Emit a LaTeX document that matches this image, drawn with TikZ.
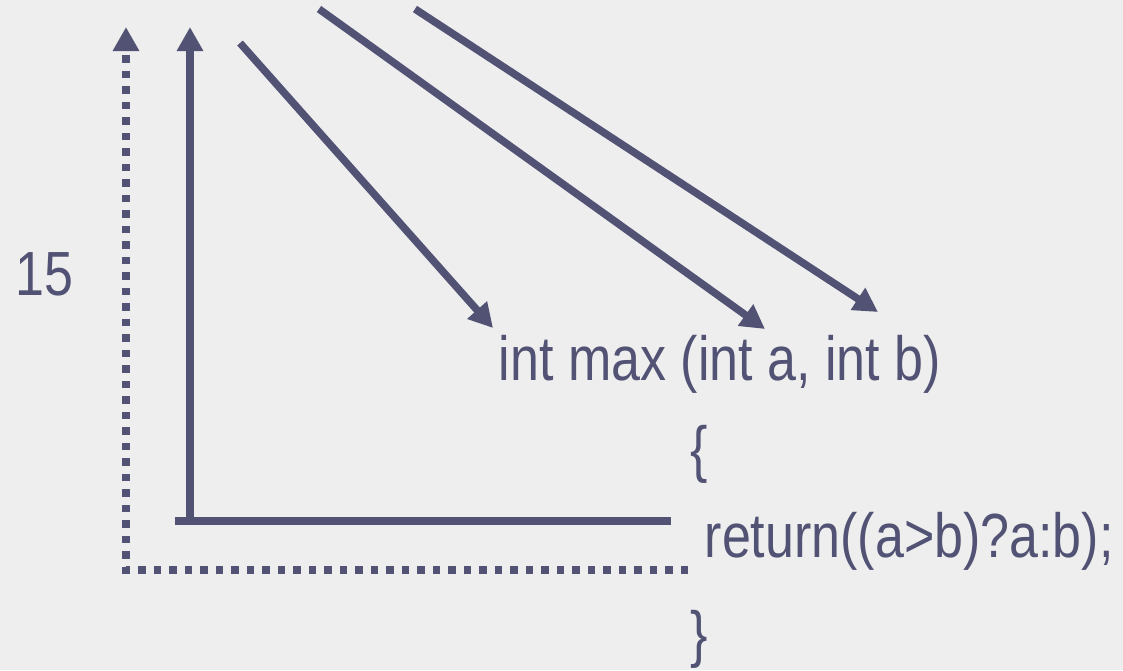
\documentclass[tikz,border=0pt]{standalone}
\usepackage{fontspec}
\setmainfont{Liberation Sans}
\usetikzlibrary{arrows.meta}
\definecolor{ink}{RGB}{82,82,117}
\definecolor{paper}{RGB}{238,238,238}
\newcommand{\tall}[1]{\scalebox{1}[1.2]{#1}}
\tikzset{
  arrowline/.style={draw=ink, line width=7.5pt, -{Triangle[length=24pt,width=25pt]}},
  plainline/.style={draw=ink, line width=7.5pt},
  dotline/.style={draw=ink, line width=7.5pt, dash pattern=on 7.5pt off 8pt},
  codetext/.style={text=ink, inner sep=0pt, anchor=base west, font=\fontsize{52}{62}\selectfont},
}
\begin{document}
\begin{tikzpicture}[x=1pt,y=-1pt]
\fill[paper] (0,0) rectangle (1123,670);
\useasboundingbox (0,0) rectangle (1123,670);

% text
\node[codetext] (fifteen) at (15,295) {\tall{15}};
\node[codetext] (sig) at (498.5,380) {\tall{int max (int a, int b)}};
\node[codetext] (open) at (690,470) {\tall{\{}};
\node[codetext] (ret) at (704.5,557) {\tall{return((a>b)?a:b);}};
\node[codetext] (close) at (690,655) {\tall{\}}};

% coordinates
\coordinate (dotEnd) at (688,570);
\coordinate (dotCorner) at (126,570);
\coordinate (dotTip) at (126,27);
\coordinate (solBase) at (190,524);
\coordinate (solTip) at (190,27);
\coordinate (hL) at (175,521);
\coordinate (hR) at (671,521);
\coordinate (a1s) at (240,43);
\coordinate (a1t) at (493,328);
\coordinate (a2s) at (319,9);
\coordinate (a2t) at (765,329);
\coordinate (a3s) at (415,9);
\coordinate (a3t) at (878,312);

% dotted L with arrow
\draw[dotline, -{Triangle[length=24pt,width=25pt]}] (dotEnd) -- (dotCorner) -- (dotTip);
% solid L
\draw[arrowline] (solBase) -- (solTip);
\draw[plainline] (hL) -- (hR);
% diagonal arrows
\draw[arrowline] (a1s) -- (a1t);
\draw[arrowline] (a2s) -- (a2t);
\draw[arrowline] (a3s) -- (a3t);
\end{tikzpicture}
\end{document}
